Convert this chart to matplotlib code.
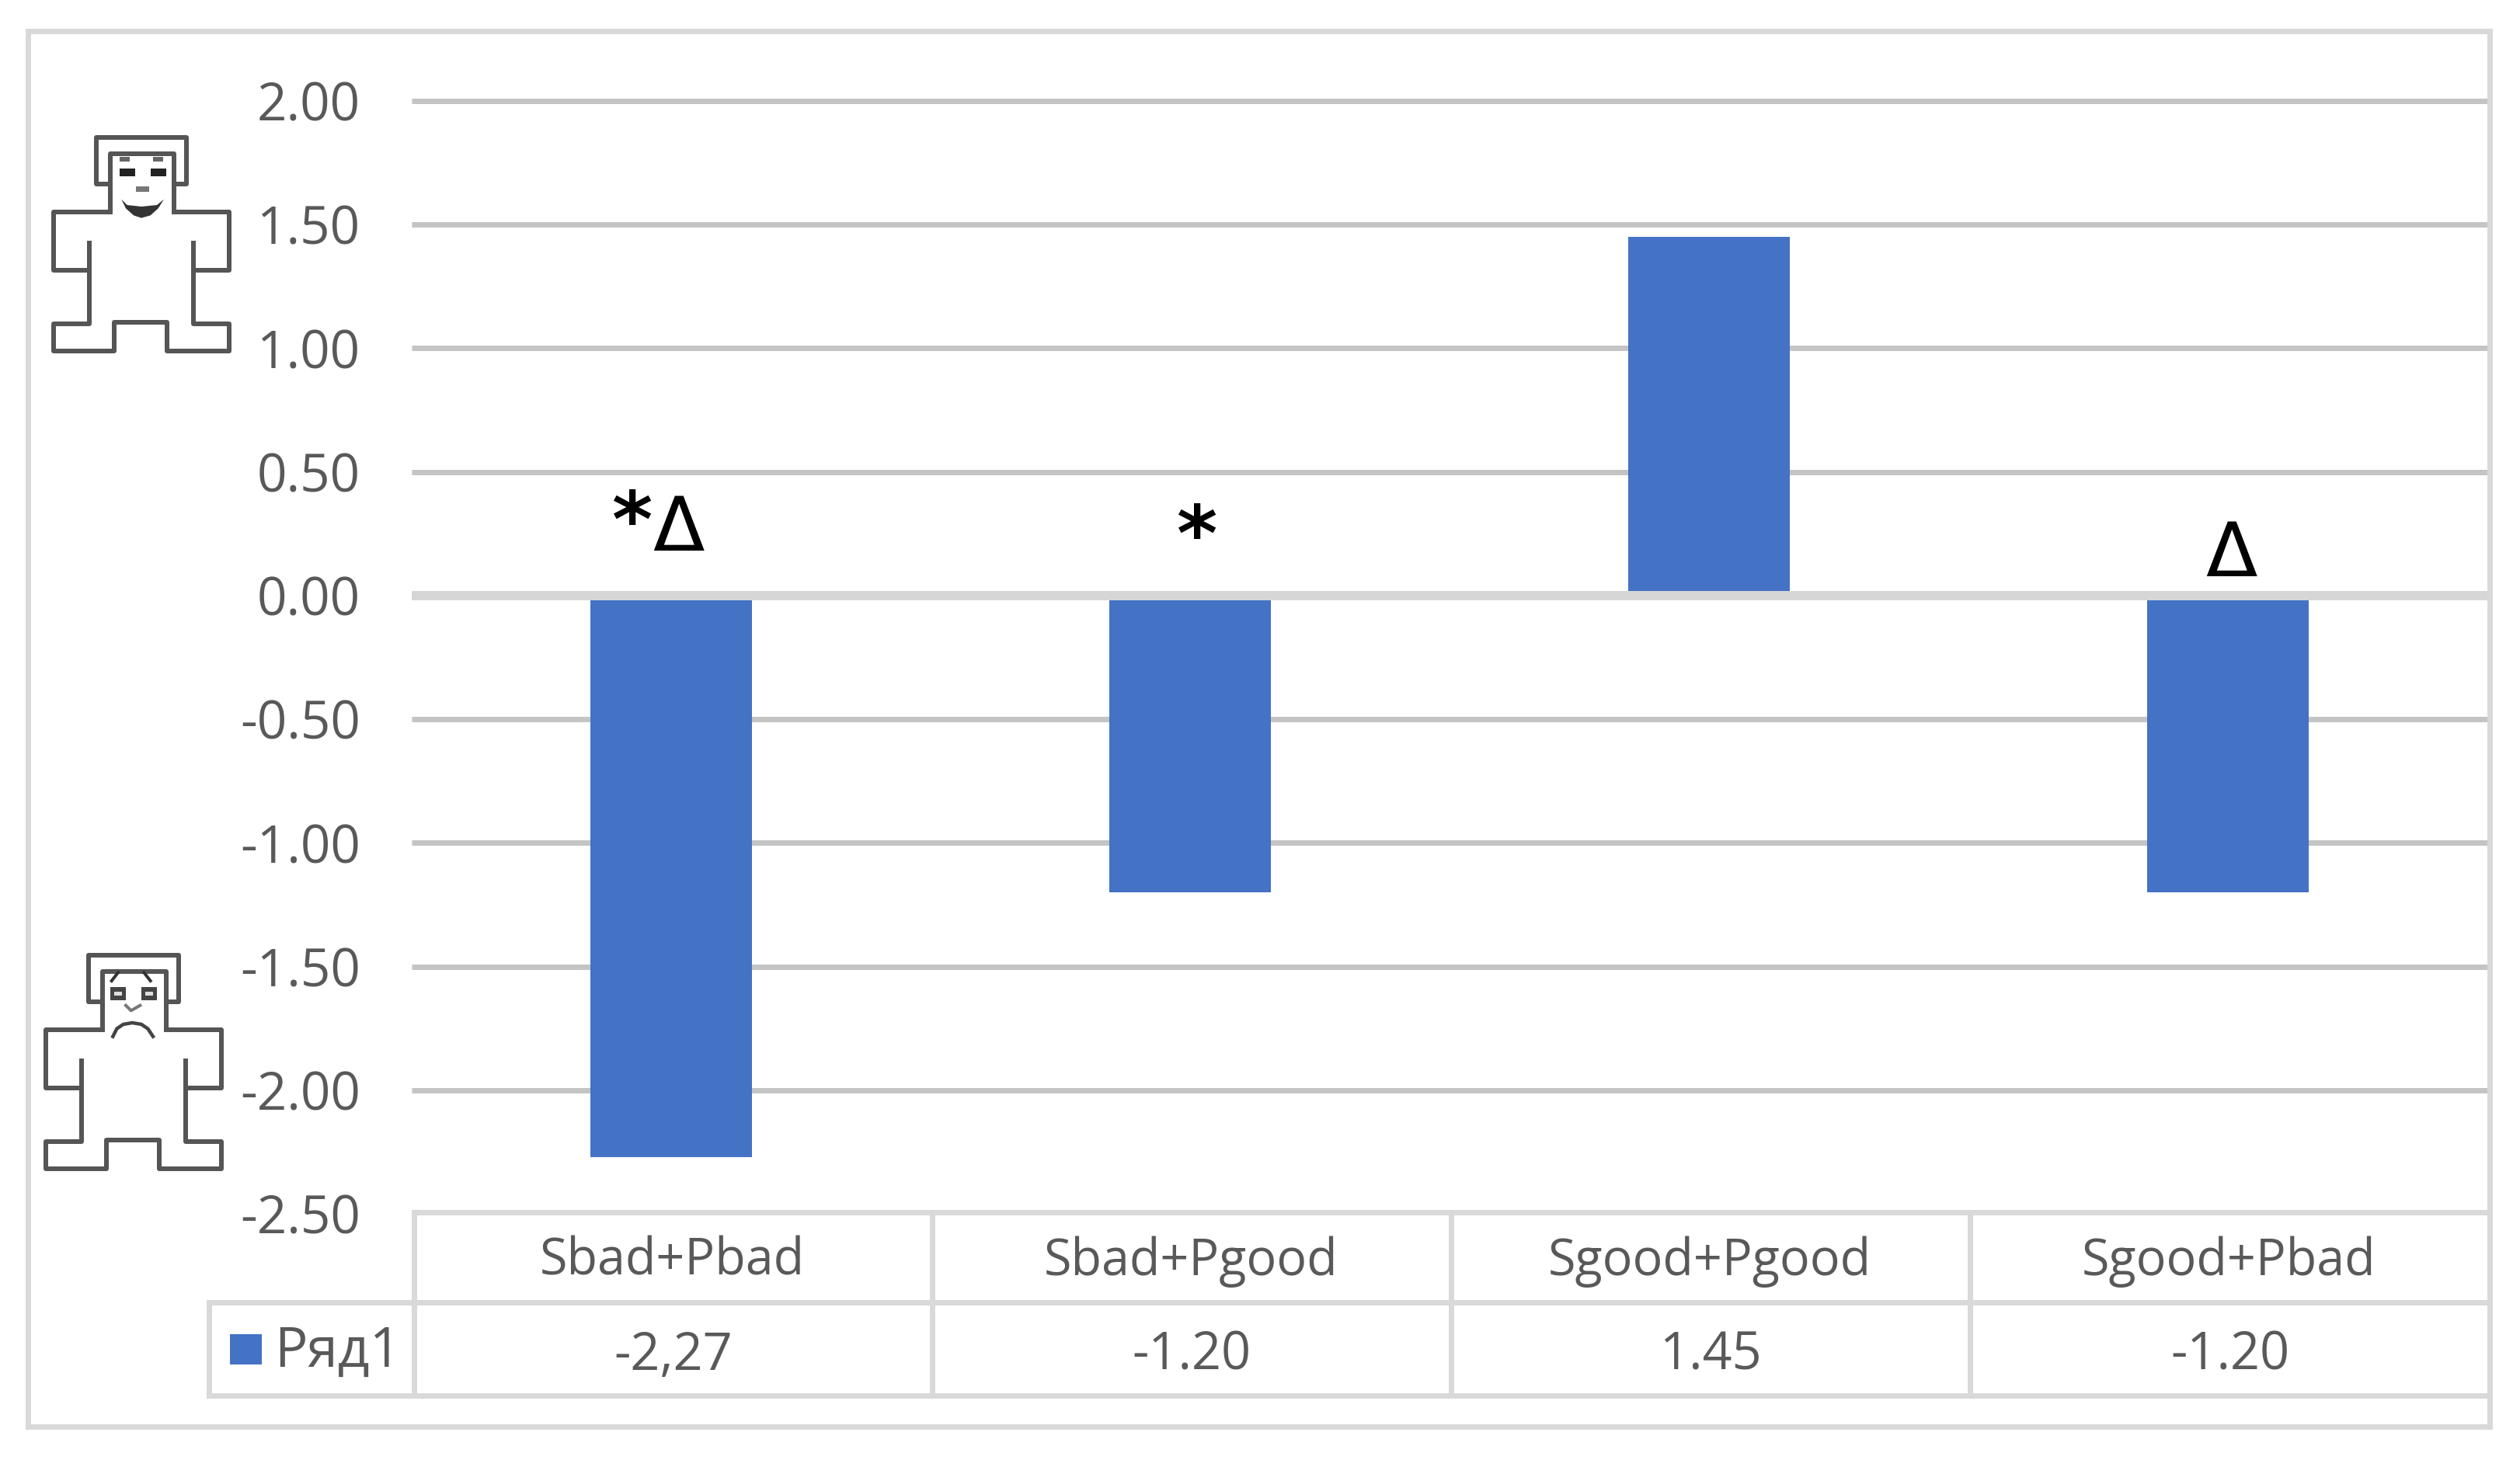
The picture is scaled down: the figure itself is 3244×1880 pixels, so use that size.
import matplotlib
matplotlib.use("Agg")
import matplotlib.pyplot as plt
from matplotlib.patches import Rectangle, Polygon

categories = ["Sbad+Pbad", "Sbad+Pgood", "Sgood+Pgood", "Sgood+Pbad"]
values = [-2.27, -1.20, 1.45, -1.20]
value_labels = ["-2,27", "-1.20", "1.45", "-1.20"]
y_ticks = [2.0, 1.5, 1.0, 0.5, 0.0, -0.5, -1.0, -1.5, -2.0, -2.5]
series_name = "Ряд1"

W, H = 3244, 1880
DPI = 100
BLUE = "#4472C4"
GRID = "#C4C4C4"
LINE = "#D9D9D9"
TXT = "#595959"
FONT = "Open Sans"
px = 72 / DPI

fig = plt.figure(figsize=(W / DPI, H / DPI), dpi=DPI, facecolor="white")

# overlay in pixel coordinates for the frame, table and icons
ov = fig.add_axes([0, 0, 1, 1], zorder=5)
ov.set_xlim(0, W)
ov.set_ylim(H, 0)
ov.axis("off")
ov.patch.set_alpha(0)

# main plot
L, R, T, B = 530, 3202, 130, 1563
ax = fig.add_axes([L / W, 1 - B / H, (R - L) / W, (B - T) / H], zorder=2)
ax.set_xlim(-0.5, 3.5)
ax.set_ylim(-2.5, 2.0)
for s in ax.spines.values():
    s.set_visible(False)
ax.set_xticks([])
ax.set_yticks(y_ticks)
ax.set_yticklabels([f"{v:.2f}" for v in y_ticks], fontsize=48.5, color=TXT, family=FONT)
ax.tick_params(axis="y", length=0, pad=66 * px)
for v in y_ticks:
    if v == -2.5:
        continue
    if v == 0:
        ax.axhline(v, color="#D6D6D6", lw=12 * px, zorder=4, solid_capstyle="butt")
    else:
        ax.axhline(v, color=GRID, lw=7 * px, zorder=1, clip_on=False, solid_capstyle="butt")
ax.bar(range(len(values)), values, width=0.31, color=BLUE, zorder=3)

# significance marks
ax.annotate("*", (0, 0), xytext=(813 - 864, 766 - 676), textcoords="offset pixels",
            ha="center", va="center", fontsize=72, family="DejaVu Sans", color="black", weight="bold")
ax.annotate("Δ", (0, 0), xytext=(873 - 864, 766 - 682), textcoords="offset pixels",
            ha="center", va="center", fontsize=70, family="DejaVu Sans", color="black")
ax.annotate("*", (1, 0), xytext=(8, 766 - 694), textcoords="offset pixels",
            ha="center", va="center", fontsize=72, family="DejaVu Sans", color="black", weight="bold")
ax.annotate("Δ", (3, 0), xytext=(4, 766 - 715), textcoords="offset pixels",
            ha="center", va="center", fontsize=70, family="DejaVu Sans", color="black")

# outer frame
ov.add_patch(Rectangle((36, 40), 3169, 1797, fill=False, ec=LINE, lw=7 * px))

# data table
col_x = [533, 1200, 1868, 2536, 3205]
row_y = [1561, 1677, 1797]
lw_t = 7 * px
ov.plot([533, 3205], [row_y[0]] * 2, color=LINE, lw=lw_t)
ov.plot([269, 3205], [row_y[1]] * 2, color=LINE, lw=lw_t)
ov.plot([269, 3205], [row_y[2]] * 2, color=LINE, lw=lw_t)
ov.plot([269, 269], [row_y[1], row_y[2]], color=LINE, lw=lw_t)
for x in col_x[:-1]:
    ov.plot([x, x], [row_y[0], row_y[2]], color=LINE, lw=lw_t)
for i, (c, v) in enumerate(zip(categories, value_labels)):
    cx = (col_x[i] + col_x[i + 1]) / 2
    ov.text(cx - 1, 1625, c, ha="center", va="center", fontsize=46.5, color=TXT, family=FONT)
    ov.text(cx, 1746, v, ha="center", va="center", fontsize=48, color=TXT, family=FONT)
ov.add_patch(Rectangle((296, 1718), 41, 39, fc=BLUE, ec="none"))
ov.text(353, 1741, series_name, ha="left", va="center", fontsize=51, color=TXT, family=FONT)


# person pictograms (local units are 1/3 pixel)
def person(ox, oy, happy):
    c = "#555555"
    paths = [
        [(345, 290), (290, 290), (290, 110), (640, 110), (640, 290), (590, 290)],
        [(345, 400), (345, 175), (590, 175), (590, 400)],
        [(345, 400), (125, 400), (125, 625), (265, 625)],
        [(265, 520), (265, 830), (125, 830), (125, 935), (360, 935), (360, 825),
         (565, 825), (565, 935), (805, 935), (805, 830), (665, 830), (665, 520)],
        [(665, 625), (805, 625), (805, 400), (590, 400)],
    ]
    for p in paths:
        ov.plot([ox + a / 3 for a, _ in p], [oy + b / 3 for _, b in p],
                color=c, lw=6 * px, solid_joinstyle="round")

    def box(x0, y0, x1, y1, col):
        ov.add_patch(Rectangle((ox + x0 / 3, oy + y0 / 3), (x1 - x0) / 3, (y1 - y0) / 3,
                               fc=col, ec="none"))

    if happy:
        box(380, 230, 440, 262, "#222222")
        box(500, 230, 560, 262, "#222222")
        box(380, 185, 420, 205, "#666666")
        box(510, 185, 550, 205, "#666666")
        box(445, 300, 495, 322, "#777777")
        smile = [(388, 350), (405, 385), (435, 412), (465, 422), (500, 412), (530, 385),
                 (552, 350), (525, 372), (465, 378), (410, 372)]
        ov.add_patch(Polygon([(ox + a / 3, oy + b / 3) for a, b in smile], fc="#333333", ec="none"))
    else:
        for x0 in (375, 495):
            box(x0, 235, x0 + 60, 285, "#444444")
            box(x0 + 15, 252, x0 + 45, 268, "#DDDDDD")
        ov.plot([ox + a / 3 for a in (380, 405)], [oy + b / 3 for b in (210, 178)], color="#333333", lw=4 * px)
        ov.plot([ox + a / 3 for a in (530, 505)], [oy + b / 3 for b in (210, 178)], color="#333333", lw=4 * px)
        ov.plot([ox + a / 3 for a in (435, 455, 490)], [oy + b / 3 for b in (305, 325, 305)], color="#777777", lw=4 * px)
        frown = [(385, 425), (400, 395), (425, 378), (460, 372), (495, 378), (520, 395), (540, 425)]
        ov.plot([ox + a / 3 for a, _ in frown], [oy + b / 3 for _, b in frown], color="#444444", lw=4.5 * px)


person(27, 140, True)
person(17, 1193, False)

fig.savefig("out.png", dpi=DPI, facecolor="white")
